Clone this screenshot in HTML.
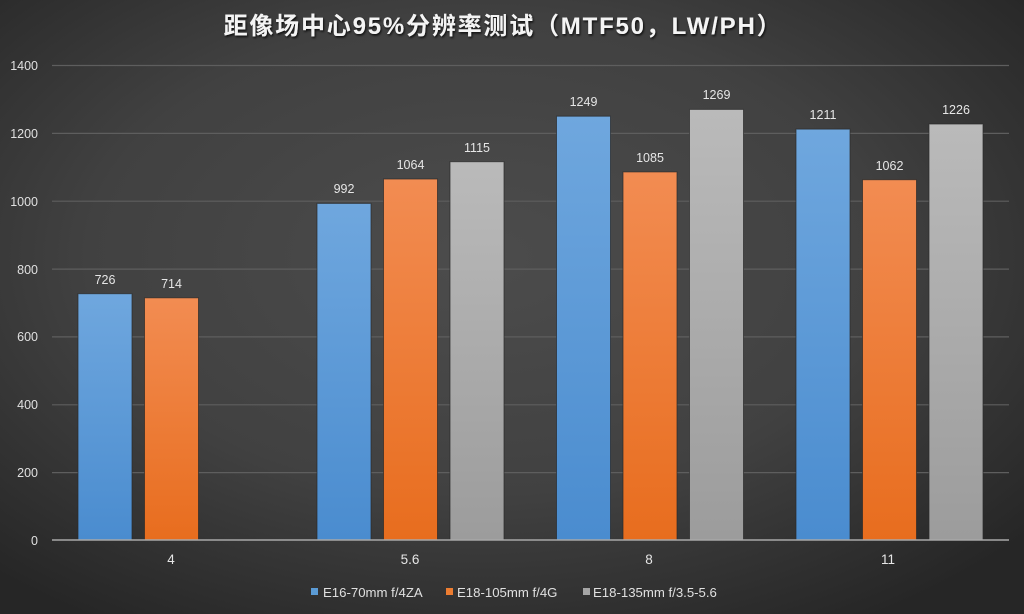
<!DOCTYPE html>
<html><head><meta charset="utf-8"><style>
html,body{margin:0;padding:0;width:1024px;height:614px;overflow:hidden;background:#333;}
svg{display:block}
</style></head><body>
<svg width="1024" height="614" viewBox="0 0 1024 614" xmlns="http://www.w3.org/2000/svg">
<defs>
<radialGradient id="bg" cx="0.47" cy="0.42" r="0.7">
<stop offset="0" stop-color="#4c4c4c"/>
<stop offset="0.55" stop-color="#414141"/>
<stop offset="1" stop-color="#262626"/>
</radialGradient>
<linearGradient id="gb" x1="0" y1="0" x2="0" y2="1"><stop offset="0" stop-color="#6fa7de"/><stop offset="1" stop-color="#4a8ccf"/></linearGradient>
<linearGradient id="go" x1="0" y1="0" x2="0" y2="1"><stop offset="0" stop-color="#f28c52"/><stop offset="1" stop-color="#e86d1e"/></linearGradient>
<linearGradient id="gg" x1="0" y1="0" x2="0" y2="1"><stop offset="0" stop-color="#bababa"/><stop offset="1" stop-color="#9c9c9c"/></linearGradient>
<filter id="ts" x="-5%" y="-20%" width="110%" height="150%"><feDropShadow dx="1" dy="1.5" stdDeviation="1" flood-color="#000" flood-opacity="0.8"/></filter>
</defs>
<rect width="1024" height="614" fill="url(#bg)"/>
<text x="503" y="34" text-anchor="middle" font-family="'Liberation Sans','Noto Sans CJK SC',sans-serif" font-size="24" font-weight="bold" fill="#f4f4f4" filter="url(#ts)" letter-spacing="1.8">距像场中心95%分辨率测试（MTF50，LW/PH）</text>
<g stroke="#5e5e5e" stroke-width="1.2">
<line x1="52" x2="1009" y1="65.5" y2="65.5"/>
<line x1="52" x2="1009" y1="133.4" y2="133.4"/>
<line x1="52" x2="1009" y1="201.2" y2="201.2"/>
<line x1="52" x2="1009" y1="269.1" y2="269.1"/>
<line x1="52" x2="1009" y1="336.9" y2="336.9"/>
<line x1="52" x2="1009" y1="404.8" y2="404.8"/>
<line x1="52" x2="1009" y1="472.6" y2="472.6"/>
</g>
<g font-family="'Liberation Sans',sans-serif" font-size="12.5" fill="#e0e0e0" text-anchor="end">
<text x="38" y="70">1400</text>
<text x="38" y="138">1200</text>
<text x="38" y="206">1000</text>
<text x="38" y="274">800</text>
<text x="38" y="341">600</text>
<text x="38" y="409">400</text>
<text x="38" y="477">200</text>
<text x="38" y="545">0</text>
</g>
<g stroke="#2a2a2a" stroke-width="1" stroke-opacity="0.7">
<rect x="78" y="293.7" width="54" height="246.3" fill="url(#gb)"/>
<rect x="144.5" y="297.8" width="54" height="242.2" fill="url(#go)"/>
<rect x="317" y="203.4" width="54" height="336.6" fill="url(#gb)"/>
<rect x="383.5" y="179" width="54" height="361" fill="url(#go)"/>
<rect x="450" y="161.7" width="54" height="378.3" fill="url(#gg)"/>
<rect x="556.5" y="116.2" width="54" height="423.8" fill="url(#gb)"/>
<rect x="623" y="171.9" width="54" height="368.1" fill="url(#go)"/>
<rect x="689.5" y="109.4" width="54" height="430.6" fill="url(#gg)"/>
<rect x="796" y="129.1" width="54" height="410.9" fill="url(#gb)"/>
<rect x="862.5" y="179.7" width="54" height="360.3" fill="url(#go)"/>
<rect x="929" y="124" width="54" height="416" fill="url(#gg)"/>
</g>
<line x1="52" x2="1009" y1="540" y2="540" stroke="#a8a8a8" stroke-width="1.5"/>
<g font-family="'Liberation Sans',sans-serif" font-size="12.5" fill="#e6e6e6" text-anchor="middle">
<text x="105" y="284">726</text>
<text x="171.5" y="288">714</text>
<text x="344" y="193">992</text>
<text x="410.5" y="169">1064</text>
<text x="477" y="152">1115</text>
<text x="583.5" y="106">1249</text>
<text x="650" y="162">1085</text>
<text x="716.5" y="99">1269</text>
<text x="823" y="119">1211</text>
<text x="889.5" y="170">1062</text>
<text x="956" y="114">1226</text>
</g>
<g font-family="'Liberation Sans',sans-serif" font-size="13.5" fill="#e6e6e6" text-anchor="middle">
<text x="171" y="564">4</text>
<text x="410" y="564">5.6</text>
<text x="649" y="564">8</text>
<text x="888" y="564">11</text>
</g>
<g font-family="'Liberation Sans',sans-serif" font-size="13.2" fill="#e0e0e0">
<rect x="311" y="588" width="7" height="7" fill="#5b9bd5"/>
<text x="323" y="597">E16-70mm f/4ZA</text>
<rect x="446" y="588" width="7" height="7" fill="#ed7d31"/>
<text x="457" y="597">E18-105mm f/4G</text>
<rect x="583" y="588" width="7" height="7" fill="#a5a5a5"/>
<text x="593" y="597">E18-135mm f/3.5-5.6</text>
</g>
</svg>
</body></html>
